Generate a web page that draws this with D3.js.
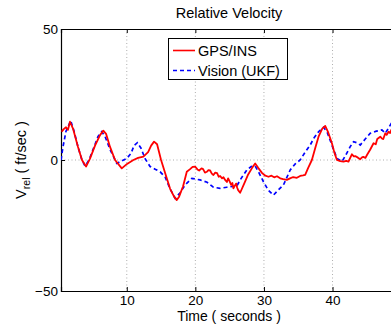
<!DOCTYPE html>
<html><head><meta charset="utf-8">
<script src="https://cdn.jsdelivr.net/npm/d3@7"></script>
<style>
body{margin:0;background:#fff;}
text{font-family:"Liberation Sans",Arial,sans-serif;fill:#000;}
</style></head><body>
<svg id="c" width="391" height="329"></svg>
<script>
const title = "Relative Velocity";
const xLabel = "Time ( seconds )";
const seriesNames = ["GPS/INS", "Vision (UKF)"];
const xTicks = [10, 20, 30, 40];
const yTicks = [-50, 0, 50];

const gpsT = [0.51,0.8,1.14,1.43,1.72,2.16,2.89,3.47,4.06,4.64,5.37,6.10,6.58,6.98,7.56,8.29,9.27,10.04,10.96,11.65,12.42,13.11,13.55,13.98,14.42,15.0,15.59,16.32,16.9,17.29,17.63,18.21,18.75,19.23,19.6,19.96,20.3,20.55,20.9,21.13,21.4,21.67,21.9,22.15,22.4,22.63,22.9,23.17,23.4,23.61,23.9,24.1,24.34,24.6,24.78,25.0,25.22,25.4,25.55,25.8,25.95,26.1,26.24,26.53,27.12,27.7,28.28,28.72,29.16,29.74,30.2,30.66,31.1,31.49,31.9,32.37,32.8,33.34,33.8,34.26,34.8,35.28,35.7,36.01,36.45,36.99,37.47,37.96,38.5,38.93,39.37,39.91,40.25,40.64,41.12,41.6,42.0,42.33,42.83,43.1,43.31,43.7,44.04,44.3,44.48,44.8,45.02,45.5,45.98,46.3,46.52,46.96,47.2,47.4,47.69,47.9,48.17,48.4,48.57,49.2];
const gpsV = [10.8,11.8,12.5,11.5,14.6,12.0,5,0,-2.5,0.5,5.5,9.5,11.2,10,5,0,-3.2,-1.5,0,0.8,1.3,3,5.5,7,6,0,-5,-11,-14,-15.3,-14,-10,-4.5,-3.5,-2.6,-2.5,-3.6,-4,-3.2,-3.5,-4.8,-4.5,-3.9,-4,-5.2,-5.7,-4.8,-5,-6.4,-6.1,-7.0,-6.6,-7.6,-8.4,-7,-8.2,-9.5,-8.8,-10.8,-9.6,-9,-10.6,-11.5,-12.5,-9,-5.5,-3,-1.3,-3,-5,-6.0,-6.4,-6.0,-6.6,-6.2,-7,-7.3,-7.6,-7.0,-6.5,-6.8,-6.1,-5.9,-5.7,-3,0,4.5,8.9,12,13,10.5,6.4,3,0,-0.4,-0.6,-0.3,-0.6,2.2,1.4,1.5,0.9,0.3,1.0,1.2,0.8,1.9,4,6.4,6.0,8,8.9,8.2,8,10.2,9.6,10.8,10.3,11.5,12];

const visT = [0.41,0.7,1.14,1.83,2.31,2.89,3.47,3.91,4.5,5.23,5.81,6.35,6.83,7.56,8.54,9.17,10.0,10.62,11.06,11.54,12.08,12.67,13.4,14.13,14.86,15.59,16.32,17.05,17.78,18.51,19.48,20.69,21.71,22.63,23.61,24.59,26.05,26.68,27.51,28.13,28.72,29.3,29.93,30.62,31.39,32.08,32.85,33.83,34.56,35.28,36.01,36.74,37.32,37.96,38.69,39.23,39.91,40.64,41.37,41.85,42.58,43.07,43.61,44.04,44.77,45.5,46.38,47.2,47.69,48.13,48.57,49.2];
const visV = [0,5,11,15,11,5,0,-2.3,0,5,9,10.8,9,4,-1.3,-0.5,0.6,2.5,5.5,6.6,4.5,0.5,-2.5,-3.5,-4.5,-6.5,-11,-14.6,-12.5,-9.5,-7,-7.6,-8.5,-10.4,-10.8,-10.4,-9.9,-7,-3.8,-2.5,-2.3,-5,-8.3,-11.5,-13.4,-11.5,-9.5,-3.8,-1.5,0,3,5.7,8.5,10.8,12.5,10.5,5.7,0.6,-0.6,1.5,5.1,7,6.5,5.7,8,10.2,11,11.5,10.2,12,14,15];

const svg = d3.select("#c");
const L = 61, T = 29, R = 397, B = 291;
const x = d3.scaleLinear().domain([0.41, 49.4]).range([L, R]);
const y = d3.scaleLinear().domain([-50, 50]).range([B, T]);

// grid
const grid = svg.append("g").attr("stroke", "#999").attr("stroke-width", 0.8).attr("stroke-dasharray", "1,2.5");
grid.selectAll("line.gx").data(xTicks).join("line")
  .attr("x1", d => x(d)).attr("x2", d => x(d)).attr("y1", T).attr("y2", B);
grid.append("line").attr("x1", L).attr("x2", R).attr("y1", y(0)).attr("y2", y(0));

// axes
const tickFont = "13.5px";
const gx = svg.append("g").attr("transform", `translate(0,${B})`)
  .call(d3.axisBottom(x).tickValues(xTicks).tickSize(-4).tickPadding(4.5).tickFormat(d3.format("d")));
const gxt = svg.append("g").attr("transform", `translate(0,${T})`)
  .call(d3.axisTop(x).tickValues(xTicks).tickSize(-4).tickFormat(""));
const gy = svg.append("g").attr("transform", `translate(${L},0)`)
  .call(d3.axisLeft(y).tickValues(yTicks).tickSize(-4).tickPadding(3).tickFormat(d => d < 0 ? "\u2212" + Math.abs(d) : d));
[gx, gxt, gy].forEach(g => {
  g.select(".domain").attr("stroke", "#000").attr("stroke-width", 1.2);
  g.selectAll(".tick line").attr("stroke", "#000");
  g.selectAll("text").attr("font-size", tickFont).attr("font-family", "Liberation Sans, Arial, sans-serif").attr("fill", "#000");
});
gy.selectAll(".tick text").attr("dy", "0.35em");

// clip
svg.append("clipPath").attr("id", "clip").append("rect")
  .attr("x", L).attr("y", T).attr("width", R - L).attr("height", B - T);

const line = d3.line().x(d => x(d[0])).y(d => y(d[1]));
const plot = svg.append("g").attr("clip-path", "url(#clip)");
plot.append("path").datum(visT.map((t, i) => [t, visV[i]]))
  .attr("fill", "none").attr("stroke", "#0000ff").attr("stroke-width", 1.7)
  .attr("stroke-dasharray", "4,3").attr("d", line);
plot.append("path").datum(gpsT.map((t, i) => [t, gpsV[i]]))
  .attr("fill", "none").attr("stroke", "#ff0000").attr("stroke-width", 1.8)
  .attr("stroke-linejoin", "round").attr("d", line);

// title & labels
const cx = (L + R) / 2;
svg.append("text").attr("x", cx).attr("y", 18).attr("text-anchor", "middle")
  .attr("font-size", "14.5px").text(title);
svg.append("text").attr("x", cx).attr("y", 321).attr("text-anchor", "middle")
  .attr("font-size", "14px").text(xLabel);
const yl = svg.append("text").attr("transform", `translate(26,${y(0)}) rotate(-90)`)
  .attr("text-anchor", "middle").attr("font-size", "14.5px");
yl.append("tspan").text("V");
yl.append("tspan").attr("font-size", "10.5px").attr("dy", "4").text("rel");
yl.append("tspan").attr("dy", "-4").text(" ( ft/sec )");

// legend
const lg = svg.append("g");
lg.append("rect").attr("x", 168.5).attr("y", 38.5).attr("width", 119).attr("height", 41)
  .attr("fill", "#fff").attr("stroke", "#000").attr("stroke-width", 1);
const colors = ["#ff0000", "#0000ff"];
const dashes = [null, "4,3"];
seriesNames.forEach((n, i) => {
  const yy = 50.5 + i * 20;
  lg.append("line").attr("x1", 173).attr("x2", 195).attr("y1", yy).attr("y2", yy)
    .attr("stroke", colors[i]).attr("stroke-width", 1.6).attr("stroke-dasharray", dashes[i]);
  lg.append("text").attr("x", 198).attr("y", yy).attr("dy", "0.36em")
    .attr("font-size", "14.5px").text(n);
});
</script>
</body></html>
